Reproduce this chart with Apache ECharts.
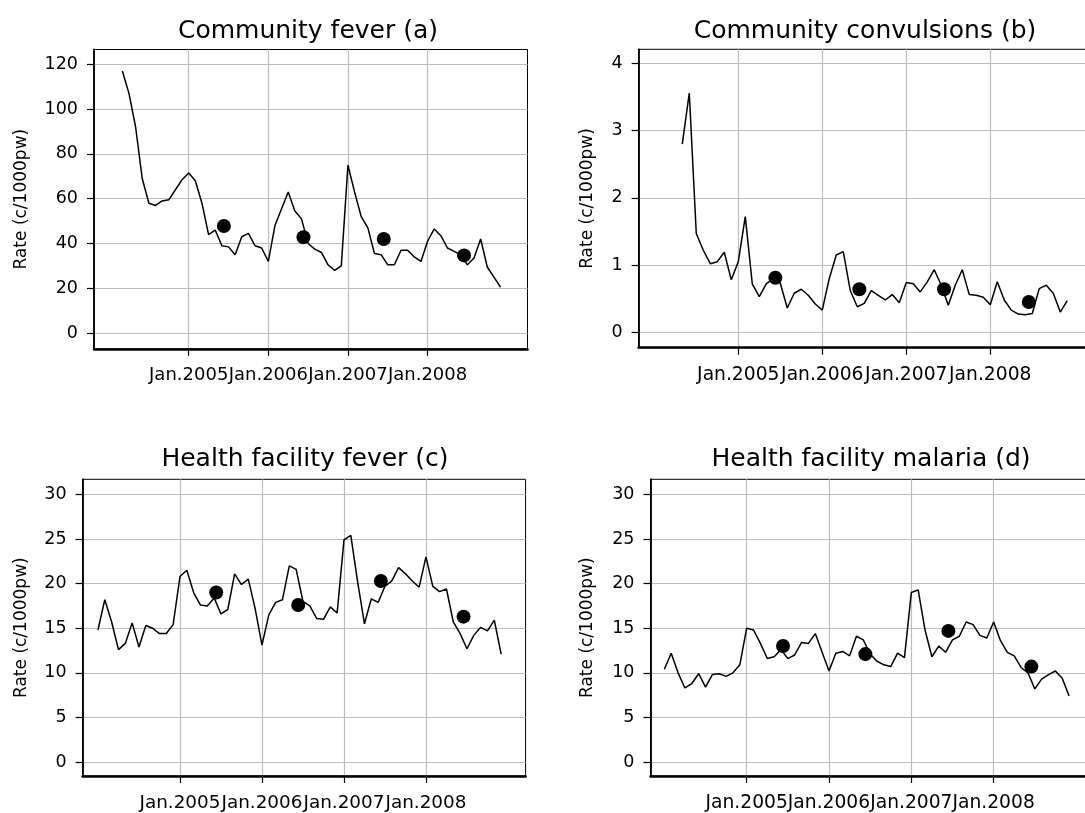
<!DOCTYPE html>
<html>
<head>
<meta charset="utf-8">
<title>Monthly rates, 2004-2008</title>
<script src="https://cdn.jsdelivr.net/npm/echarts@6/dist/echarts.min.js"></script>
<style>
  html, body { margin: 0; padding: 0; background: #ffffff; }
  #chart { width: 1085px; height: 813px; }
</style>
</head>
<body>
<div id="chart"></div>
<script>
// Month index on the x axis: 0 = Jan 2004, 12 = Jan 2005, ...
const yearTickMonths = [12, 24, 36, 48];
const yearTickLabels = ['Jan.2005', 'Jan.2006', 'Jan.2007', 'Jan.2008'];

// Mid-year survey estimates are plotted at these month positions
const surveyMonths = [17.3, 29.3, 41.4, 53.5];

// y-axis tick values
const feverTicks = [0, 20, 40, 60, 80, 100, 120];
const convulsionTicks = [0, 1, 2, 3, 4];
const facilityTicks = [0, 5, 10, 15, 20, 25, 30];

// (a) Community fever, monthly from Mar 2004
const communityFeverStart = 2;
const communityFever = [
  117, 107, 92, 69, 58, 57, 59, 59.5, 64, 68.5,
  71.5, 68, 58, 44, 46, 39, 38.5, 35, 43, 44.5,
  39, 38, 32, 48, 55.5, 63, 54.5, 51, 40, 37.5,
  36, 30.5, 28, 30, 75, 63, 52, 47, 35.5, 35,
  30.5, 30.5, 37, 37, 34, 32, 41, 46.5, 43.5, 38,
  36.5, 35, 30.5, 33.5, 42, 29.5, 25, 20.5
];
const communityFeverSurvey = [47.8, 42.8, 42.0, 34.7];

// (b) Community convulsions, monthly from May 2004
const communityConvulsionsStart = 4;
const communityConvulsions = [
  2.8, 3.56, 1.47, 1.22, 1.02, 1.05, 1.19, 0.78, 1.05, 1.72,
  0.72, 0.53, 0.72, 0.80, 0.73, 0.36, 0.58, 0.64, 0.55, 0.42,
  0.33, 0.80, 1.15, 1.20, 0.62, 0.38, 0.43, 0.62, 0.55, 0.48,
  0.56, 0.44, 0.74, 0.72, 0.60, 0.75, 0.93, 0.70, 0.40, 0.70,
  0.93, 0.56, 0.55, 0.52, 0.41, 0.75, 0.48, 0.33, 0.27, 0.26,
  0.28, 0.65, 0.70, 0.58, 0.30, 0.47
];
const communityConvulsionsSurvey = [0.81, 0.64, 0.64, 0.45];

// (c) Health facility fever, monthly from Jan 2004
const facilityFeverStart = 0;
const facilityFever = [
  14.8, 18.2, 15.7, 12.6, 13.3, 15.6, 12.9, 15.3, 15.0, 14.4,
  14.4, 15.4, 20.8, 21.5, 19.0, 17.6, 17.5, 18.4, 16.6, 17.1,
  21.1, 19.9, 20.5, 17.2, 13.1, 16.5, 17.9, 18.2, 22.0, 21.6,
  18.0, 17.5, 16.1, 16.0, 17.4, 16.7, 24.9, 25.4, 20.2, 15.5,
  18.3, 17.9, 19.7, 20.3, 21.8, 21.1, 20.3, 19.6, 23.0, 19.7,
  19.1, 19.4, 15.7, 14.4, 12.7, 14.2, 15.1, 14.7, 15.9, 12.1
];
const facilityFeverSurvey = [19.0, 17.6, 20.3, 16.3];

// (d) Health facility malaria, monthly from Jan 2004
const facilityMalariaStart = 0;
const facilityMalaria = [
  10.4, 12.2, 10.0, 8.3, 8.8, 9.9, 8.4, 9.8, 9.9, 9.6,
  10.0, 10.9, 15.0, 14.8, 13.3, 11.6, 11.8, 12.6, 11.6, 12.0,
  13.4, 13.3, 14.4, 12.3, 10.2, 12.2, 12.4, 11.9, 14.1, 13.7,
  12.1, 11.3, 10.9, 10.7, 12.2, 11.7, 19.0, 19.3, 14.8, 11.8,
  13.0, 12.3, 13.7, 14.1, 15.7, 15.4, 14.2, 13.9, 15.7, 13.6,
  12.3, 11.9, 10.6, 10.0, 8.2, 9.3, 9.8, 10.2, 9.4, 7.4
];
const facilityMalariaSurvey = [13.0, 12.1, 14.7, 10.7];

// Panel layout (pixels), axis extents and year-label size
const panels = [
  { title: 'Community fever (a)', start: communityFeverStart, values: communityFever,
    survey: communityFeverSurvey, yTicks: feverTicks,
    grid: { left: 94, top: 49.5, width: 433.5, height: 299.3 },
    xRange: [-2.27, 63.06], yRange: [-7.0, 126.6], titleX: 308, titleY: 31, nameGap: 64,
    xLabelSize: 18 },
  { title: 'Community convulsions (b)', start: communityConvulsionsStart, values: communityConvulsions,
    survey: communityConvulsionsSurvey, yTicks: convulsionTicks,
    grid: { left: 638.6, top: 49.3, width: 448.4, height: 298.4 },
    xRange: [-2.24, 61.82], yRange: [-0.23, 4.21], titleX: 865, titleY: 31, nameGap: 42.5,
    xLabelSize: 18.7 },
  { title: 'Health facility fever (c)', start: facilityFeverStart, values: facilityFever,
    survey: facilityFeverSurvey, yTicks: facilityTicks,
    grid: { left: 82.6, top: 479.3, width: 443, height: 296.7 },
    xRange: [-2.25, 62.58], yRange: [-1.57, 31.70], titleX: 305, titleY: 459, nameGap: 53,
    xLabelSize: 18.4 },
  { title: 'Health facility malaria (d)', start: facilityMalariaStart, values: facilityMalaria,
    survey: facilityMalariaSurvey, yTicks: facilityTicks,
    grid: { left: 650.5, top: 479.3, width: 436.5, height: 296.7 },
    xRange: [-2.02, 61.61], yRange: [-1.57, 31.70], titleX: 871, titleY: 459, nameGap: 54,
    xLabelSize: 18.7 }
];

const FONT = 'DejaVu Sans';
const INK = '#000000';
const GRID_GREY = '#bdbdbd';

const chart = echarts.init(document.getElementById('chart'), null, { renderer: 'canvas' });

const option = {
  animation: false,
  backgroundColor: '#ffffff',
  grid: panels.map(p => Object.assign({
    show: true, borderColor: INK, borderWidth: 1, backgroundColor: 'transparent',
    containLabel: false, outerBoundsMode: 'none'
  }, p.grid)),
  xAxis: panels.map((p, i) => ({
    type: 'value', gridIndex: i, min: p.xRange[0], max: p.xRange[1],
    axisLine: { show: true, onZero: false, lineStyle: { color: INK, width: 2.5 } },
    axisTick: { show: true, inside: false, length: 7, customValues: yearTickMonths,
                lineStyle: { color: INK, width: 1.2 } },
    axisLabel: { show: true, customValues: yearTickMonths, margin: 18, hideOverlap: false,
                 fontFamily: FONT, fontSize: p.xLabelSize, color: INK,
                 formatter: v => yearTickLabels[yearTickMonths.indexOf(Math.round(v))] || '' },
    splitLine: { show: true, lineStyle: { color: GRID_GREY, width: 1.2 } }
  })),
  yAxis: panels.map((p, i) => ({
    type: 'value', gridIndex: i, min: p.yRange[0], max: p.yRange[1],
    name: 'Rate (c/1000pw)', nameLocation: 'middle', nameRotate: 90, nameGap: p.nameGap,
    nameTextStyle: { fontFamily: FONT, fontSize: 17, color: INK },
    axisLine: { show: true, onZero: false, lineStyle: { color: INK, width: 1.8 } },
    axisTick: { show: true, inside: false, length: 7, customValues: p.yTicks,
                lineStyle: { color: INK, width: 1.2 } },
    axisLabel: { show: true, customValues: p.yTicks, margin: 16,
                 fontFamily: FONT, fontSize: 17.5, color: INK },
    splitLine: { show: true, lineStyle: { color: GRID_GREY, width: 1.2 } }
  })),
  graphic: panels.map(p => ({
    type: 'text', x: p.titleX, y: p.titleY, silent: true,
    style: { text: p.title, fill: INK, font: '25px "' + FONT + '"',
             align: 'center', verticalAlign: 'middle' }
  })),
  series: panels.flatMap((p, i) => [
    {
      type: 'line', xAxisIndex: i, yAxisIndex: i,
      showSymbol: false, symbol: 'none', smooth: false,
      lineStyle: { color: INK, width: 1.5 },
      data: p.values.map((v, k) => [p.start + k, v])
    },
    {
      type: 'scatter', xAxisIndex: i, yAxisIndex: i,
      symbol: 'circle', symbolSize: 14,
      itemStyle: { color: INK, opacity: 1 },
      data: surveyMonths.map((m, k) => [m, p.survey[k]])
    }
  ])
};

chart.setOption(option);
</script>
</body>
</html>
